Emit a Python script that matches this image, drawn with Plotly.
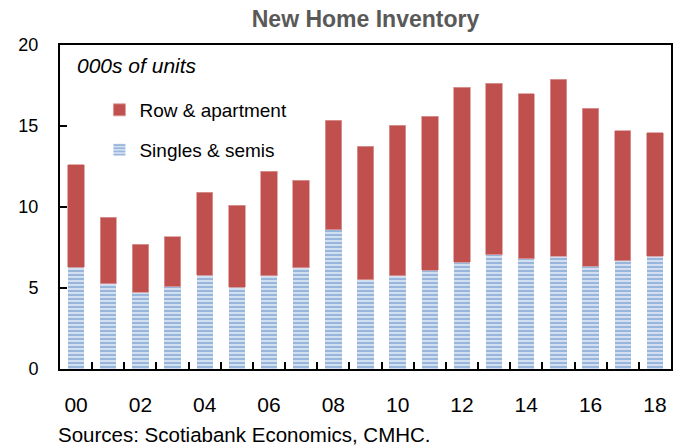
import plotly.graph_objects as go

years = [f"{y:02d}" for y in range(0, 19)]
total = [12.6, 9.38, 7.7, 8.16, 10.9, 10.1, 12.2, 11.65, 15.35, 13.75,
         15.05, 15.6, 17.4, 17.65, 17.0, 17.9, 16.1, 14.7, 14.57]
singles = [6.27, 5.25, 4.75, 5.08, 5.78, 5.04, 5.75, 6.25, 8.6, 5.5,
           5.75, 6.1, 6.6, 7.05, 6.8, 6.97, 6.34, 6.67, 6.97]
row_apt = [round(t - s, 2) for t, s in zip(total, singles)]
tick_labels = years[::2]

FONT = "Liberation Sans, Arial, sans-serif"
xpos = list(range(len(years)))

# page is shown with an 8px body margin; plot area in page px: x 53..673, y 45..369
FIG_W, FIG_H = 675, 439
PX0, PX1, PY0, PY1 = 53, 673, 45, 369
def px(xp):
    return (xp - PX0) / (PX1 - PX0)
def py(yp):
    return (PY1 - yp) / (PY1 - PY0)

fig = go.Figure()
fig.add_trace(go.Bar(
    x=xpos, y=singles, name="Singles & semis", width=0.51,
    marker=dict(color="#E0EAF6",
                pattern=dict(shape="-", fgcolor="#4F7FC0", bgcolor="#E0EAF6",
                             size=4, solidity=0.6, fillmode="overlay"),
                line=dict(width=0)),
    legend="legend2",
))
fig.add_trace(go.Bar(
    x=xpos, y=row_apt, name="Row & apartment", width=0.51,
    marker=dict(color="#C0504D", line=dict(width=0.8, color="#DA9A98")),
    legend="legend",
))

fig.update_layout(
    width=FIG_W, height=FIG_H,
    barmode="stack",
    plot_bgcolor="white", paper_bgcolor="white",
    margin=dict(l=45, r=10, t=37, b=78),
    font=dict(family=FONT, color="black", size=18),
    title=dict(text="<b>New Home Inventory</b>", x=0.5, xref="paper", xanchor="center",
               y=1 - (19 - 8) / FIG_H, yref="container", yanchor="middle",
               font=dict(family=FONT, size=23, color="#595959")),
    legend=dict(x=px(93), y=py(110), xanchor="left", yanchor="middle",
                bgcolor="rgba(0,0,0,0)", font=dict(size=19, family=FONT)),
    legend2=dict(x=px(93), y=py(150), xanchor="left", yanchor="middle",
                 bgcolor="rgba(0,0,0,0)", font=dict(size=19, family=FONT)),
    showlegend=True,
)
fig.update_xaxes(
    range=[-0.5, 18.5],
    tickmode="array", tickvals=xpos[::2], ticktext=tick_labels,
    ticks="", ticklabelstandoff=16,
    tickfont=dict(size=21, family=FONT),
    minor=dict(tickmode="array", tickvals=[i + 0.5 for i in range(18)],
               ticks="inside", ticklen=7, tickwidth=2, tickcolor="black"),
    showline=True, linecolor="black", linewidth=2, mirror=True,
    showgrid=False, zeroline=False,
)
fig.update_yaxes(
    range=[0, 20], dtick=5, tick0=0,
    ticks="inside", ticklen=7, tickwidth=2, tickcolor="black",
    tickfont=dict(size=18, family=FONT), ticklabelstandoff=16,
    showline=True, linecolor="black", linewidth=2, mirror=True,
    showgrid=False, zeroline=False,
)
fig.add_annotation(text="<i>000s of units</i>", xref="paper", yref="paper",
                   x=px(68), y=py(66), xanchor="left",
                   yanchor="middle", showarrow=False,
                   font=dict(size=21, family=FONT, color="black"))
fig.add_annotation(text="Sources: Scotiabank Economics, CMHC.", xref="paper",
                   yref="paper", x=px(49), y=py(434),
                   xanchor="left", yanchor="middle", showarrow=False,
                   font=dict(size=20.5, family=FONT, color="black"))

fig.write_html("out.html")
